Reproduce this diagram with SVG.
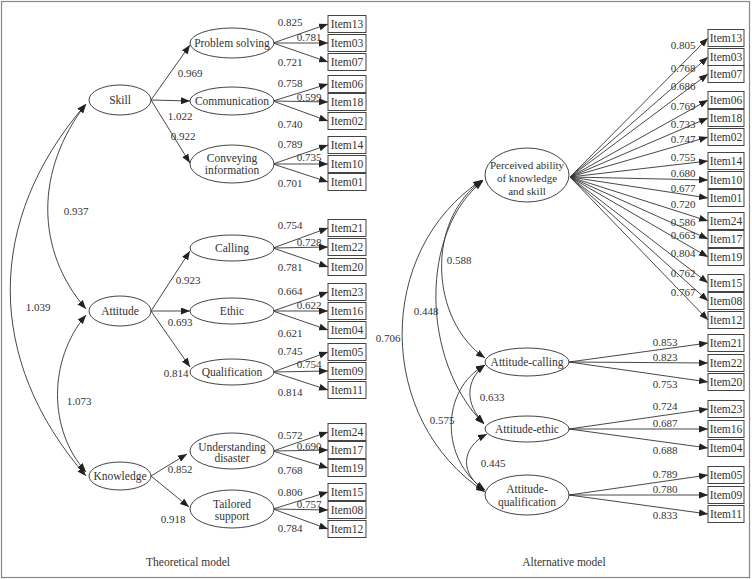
<svg xmlns="http://www.w3.org/2000/svg" width="752" height="579" viewBox="0 0 752 579">
<style>
text{font-family:"Liberation Serif","Times New Roman",serif;fill:#333;font-size:11.5px;text-anchor:middle}
.n{font-size:11px}
.s{font-size:11px}
.e{fill:#fff;stroke:#444;stroke-width:1}
.b{fill:#fff;stroke:#444;stroke-width:1}
.c{fill:none;stroke:#333;stroke-width:0.9;marker-end:url(#a)}
.d{fill:none;stroke:#333;stroke-width:0.9;marker-start:url(#a);marker-end:url(#a)}
</style>
<defs>
<marker id="a" viewBox="0 0 10 10" refX="10" refY="5" markerWidth="9" markerHeight="7" preserveAspectRatio="none" orient="auto-start-reverse" markerUnits="userSpaceOnUse"><path d="M0,0 L10,5 L0,10 z" fill="#222"/></marker>
</defs>
<rect x="1.5" y="1.5" width="748" height="576" fill="#fff" stroke="#888" stroke-width="1.2"/>

<g id="connectors">
<path class="c" d="M151,100 L190,45"/>
<path class="c" d="M151,100 L190,101"/>
<path class="c" d="M151,100 L190,163"/>
<path class="c" d="M151,311 L190,251"/>
<path class="c" d="M151,311 L190,311"/>
<path class="c" d="M151,311 L190,367"/>
<path class="c" d="M151,476 L187,454"/>
<path class="c" d="M151,476 L189,507"/>
<path class="c" d="M273,43 L328,24"/><path class="c" d="M273,43 L328,43"/><path class="c" d="M273,43 L328,62"/>
<path class="c" d="M273,101 L328,84"/><path class="c" d="M273,101 L328,102"/><path class="c" d="M273,101 L328,121"/>
<path class="c" d="M273,164 L328,145"/><path class="c" d="M273,164 L328,164"/><path class="c" d="M273,164 L328,182"/>
<path class="c" d="M273,248 L328,228"/><path class="c" d="M273,248 L328,247"/><path class="c" d="M273,248 L328,267"/>
<path class="c" d="M273,311 L328,292"/><path class="c" d="M273,311 L328,311"/><path class="c" d="M273,311 L328,330"/>
<path class="c" d="M273,372 L328,352"/><path class="c" d="M273,372 L328,371"/><path class="c" d="M273,372 L328,390"/>
<path class="c" d="M273,451 L328,432"/><path class="c" d="M273,451 L328,450"/><path class="c" d="M273,451 L328,468"/>
<path class="c" d="M273,509 L328,492"/><path class="c" d="M273,509 L328,510"/><path class="c" d="M273,509 L328,529"/>
<path class="d" d="M86,104 C35,170 35,250 86,309"/>
<path class="d" d="M86,104 C-15,220 -15,360 86,476"/>
<path class="d" d="M86,315 C48,360 48,430 86,472"/>
<path class="c" d="M570,177 L708,38"/><path class="c" d="M570,177 L708,57"/><path class="c" d="M570,177 L708,74"/>
<path class="c" d="M570,177 L708,100"/><path class="c" d="M570,177 L708,118"/><path class="c" d="M570,177 L708,137"/>
<path class="c" d="M570,177 L708,161"/><path class="c" d="M570,177 L708,180"/><path class="c" d="M570,177 L708,198"/>
<path class="c" d="M570,177 L708,221"/><path class="c" d="M570,177 L708,239"/><path class="c" d="M570,177 L708,257"/>
<path class="c" d="M570,177 L708,283"/><path class="c" d="M570,177 L708,301"/><path class="c" d="M570,177 L708,320"/>
<path class="c" d="M569,362 L708,343"/><path class="c" d="M569,362 L708,363"/><path class="c" d="M569,362 L708,382"/>
<path class="c" d="M569,429 L708,409"/><path class="c" d="M569,429 L708,429"/><path class="c" d="M569,429 L708,448"/>
<path class="c" d="M569,495 L708,475"/><path class="c" d="M569,495 L708,495"/><path class="c" d="M569,495 L708,514"/>
<path class="d" d="M483,180 C425,220 430,320 485,358"/>
<path class="d" d="M483,181 C420,230 420,360 484,424"/>
<path class="d" d="M482,180 C375,250 375,420 485,492"/>
<path class="d" d="M485,365 C465,380 465,405 484,423"/>
<path class="d" d="M485,365 C440,390 440,460 485,490"/>
<path class="d" d="M487,434 C460,448 460,475 485,490"/>
</g>

<g id="skill"><ellipse class="e" cx="120" cy="100" rx="31" ry="15"/><text x="120" y="104">Skill</text></g>
<g id="attitude"><ellipse class="e" cx="120" cy="311" rx="31" ry="15"/><text x="120" y="315">Attitude</text></g>
<g id="knowledge"><ellipse class="e" cx="120" cy="476" rx="31" ry="14"/><text x="120" y="480">Knowledge</text></g>
<g id="problem-solving"><ellipse class="e" cx="232" cy="43" rx="42" ry="15"/><text x="232" y="47">Problem solving</text></g>
<g id="communication"><ellipse class="e" cx="232" cy="101" rx="42" ry="14"/><text x="232" y="105">Communication</text></g>
<g id="conveying"><ellipse class="e" cx="232" cy="164" rx="42" ry="19"/><text x="232" y="162">Conveying</text><text x="232" y="174">information</text></g>
<g id="calling"><ellipse class="e" cx="232" cy="248" rx="42" ry="13"/><text x="232" y="252">Calling</text></g>
<g id="ethic"><ellipse class="e" cx="232" cy="311" rx="42" ry="13"/><text x="232" y="315">Ethic</text></g>
<g id="qualification"><ellipse class="e" cx="232" cy="372" rx="42" ry="13"/><text x="232" y="376">Qualification</text></g>
<g id="understanding"><ellipse class="e" cx="232" cy="451" rx="42" ry="18"/><text x="232" y="451">Understanding</text><text x="232" y="462">disaster</text></g>
<g id="tailored"><ellipse class="e" cx="232" cy="509" rx="42" ry="19"/><text x="232" y="508">Tailored</text><text x="232" y="520">support</text></g>

<g id="L-item13"><rect class="b" x="328" y="15.5" width="38" height="17"/><text x="347" y="28">Item13</text></g>
<g id="L-item03"><rect class="b" x="328" y="34.5" width="38" height="17"/><text x="347" y="47">Item03</text></g>
<g id="L-item07"><rect class="b" x="328" y="53.5" width="38" height="17"/><text x="347" y="66">Item07</text></g>
<g id="L-item06"><rect class="b" x="328" y="75.5" width="38" height="17"/><text x="347" y="88">Item06</text></g>
<g id="L-item18"><rect class="b" x="328" y="93.5" width="38" height="17"/><text x="347" y="106">Item18</text></g>
<g id="L-item02"><rect class="b" x="328" y="112.5" width="38" height="17"/><text x="347" y="125">Item02</text></g>
<g id="L-item14"><rect class="b" x="328" y="136.5" width="38" height="17"/><text x="347" y="149">Item14</text></g>
<g id="L-item10"><rect class="b" x="328" y="155.5" width="38" height="17"/><text x="347" y="168">Item10</text></g>
<g id="L-item01"><rect class="b" x="328" y="173.5" width="38" height="17"/><text x="347" y="186">Item01</text></g>
<g id="L-item21"><rect class="b" x="328" y="219.5" width="38" height="17"/><text x="347" y="232">Item21</text></g>
<g id="L-item22"><rect class="b" x="328" y="238.5" width="38" height="17"/><text x="347" y="251">Item22</text></g>
<g id="L-item20"><rect class="b" x="328" y="258.5" width="38" height="17"/><text x="347" y="271">Item20</text></g>
<g id="L-item23"><rect class="b" x="328" y="283.5" width="38" height="17"/><text x="347" y="296">Item23</text></g>
<g id="L-item16"><rect class="b" x="328" y="302.5" width="38" height="17"/><text x="347" y="315">Item16</text></g>
<g id="L-item04"><rect class="b" x="328" y="321.5" width="38" height="17"/><text x="347" y="334">Item04</text></g>
<g id="L-item05"><rect class="b" x="328" y="343.5" width="38" height="17"/><text x="347" y="356">Item05</text></g>
<g id="L-item09"><rect class="b" x="328" y="362.5" width="38" height="17"/><text x="347" y="375">Item09</text></g>
<g id="L-item11"><rect class="b" x="328" y="381.5" width="38" height="17"/><text x="347" y="394">Item11</text></g>
<g id="L-item24"><rect class="b" x="328" y="423.5" width="38" height="17"/><text x="347" y="436">Item24</text></g>
<g id="L-item17"><rect class="b" x="328" y="441.5" width="38" height="17"/><text x="347" y="454">Item17</text></g>
<g id="L-item19"><rect class="b" x="328" y="459.5" width="38" height="17"/><text x="347" y="472">Item19</text></g>
<g id="L-item15"><rect class="b" x="328" y="483.5" width="38" height="17"/><text x="347" y="496">Item15</text></g>
<g id="L-item08"><rect class="b" x="328" y="501.5" width="38" height="17"/><text x="347" y="514">Item08</text></g>
<g id="L-item12"><rect class="b" x="328" y="520.5" width="38" height="17"/><text x="347" y="533">Item12</text></g>

<g id="perceived"><ellipse class="e" cx="527" cy="175" rx="42" ry="27"/><text class="s" x="527" y="169">Perceived ability</text><text class="s" x="527" y="182">of knowledge</text><text class="s" x="527" y="195">and skill</text></g>
<g id="attitude-calling"><ellipse class="e" cx="527" cy="362" rx="42" ry="14"/><text x="527" y="366">Attitude-calling</text></g>
<g id="attitude-ethic"><ellipse class="e" cx="527" cy="429" rx="42" ry="13"/><text x="527" y="433">Attitude-ethic</text></g>
<g id="attitude-qualification"><ellipse class="e" cx="527" cy="495" rx="42" ry="20"/><text x="527" y="493">Attitude-</text><text x="527" y="506">qualification</text></g>

<g id="R-item13"><rect class="b" x="708" y="29.5" width="36" height="17"/><text x="726" y="42">Item13</text></g>
<g id="R-item03"><rect class="b" x="708" y="48.5" width="36" height="17"/><text x="726" y="61">Item03</text></g>
<g id="R-item07"><rect class="b" x="708" y="65.5" width="36" height="17"/><text x="726" y="78">Item07</text></g>
<g id="R-item06"><rect class="b" x="708" y="91.5" width="36" height="17"/><text x="726" y="104">Item06</text></g>
<g id="R-item18"><rect class="b" x="708" y="109.5" width="36" height="17"/><text x="726" y="122">Item18</text></g>
<g id="R-item02"><rect class="b" x="708" y="128.5" width="36" height="17"/><text x="726" y="141">Item02</text></g>
<g id="R-item14"><rect class="b" x="708" y="152.5" width="36" height="17"/><text x="726" y="165">Item14</text></g>
<g id="R-item10"><rect class="b" x="708" y="171.5" width="36" height="17"/><text x="726" y="184">Item10</text></g>
<g id="R-item01"><rect class="b" x="708" y="189.5" width="36" height="17"/><text x="726" y="202">Item01</text></g>
<g id="R-item24"><rect class="b" x="708" y="212.5" width="36" height="17"/><text x="726" y="225">Item24</text></g>
<g id="R-item17"><rect class="b" x="708" y="230.5" width="36" height="17"/><text x="726" y="243">Item17</text></g>
<g id="R-item19"><rect class="b" x="708" y="248.5" width="36" height="17"/><text x="726" y="261">Item19</text></g>
<g id="R-item15"><rect class="b" x="708" y="274.5" width="36" height="17"/><text x="726" y="287">Item15</text></g>
<g id="R-item08"><rect class="b" x="708" y="292.5" width="36" height="17"/><text x="726" y="305">Item08</text></g>
<g id="R-item12"><rect class="b" x="708" y="311.5" width="36" height="17"/><text x="726" y="324">Item12</text></g>
<g id="R-item21"><rect class="b" x="708" y="334.5" width="36" height="17"/><text x="726" y="347">Item21</text></g>
<g id="R-item22"><rect class="b" x="708" y="354.5" width="36" height="17"/><text x="726" y="367">Item22</text></g>
<g id="R-item20"><rect class="b" x="708" y="373.5" width="36" height="17"/><text x="726" y="386">Item20</text></g>
<g id="R-item23"><rect class="b" x="708" y="400.5" width="36" height="17"/><text x="726" y="413">Item23</text></g>
<g id="R-item16"><rect class="b" x="708" y="420.5" width="36" height="17"/><text x="726" y="433">Item16</text></g>
<g id="R-item04"><rect class="b" x="708" y="439.5" width="36" height="17"/><text x="726" y="452">Item04</text></g>
<g id="R-item05"><rect class="b" x="708" y="466.5" width="36" height="17"/><text x="726" y="479">Item05</text></g>
<g id="R-item09"><rect class="b" x="708" y="486.5" width="36" height="17"/><text x="726" y="499">Item09</text></g>
<g id="R-item11"><rect class="b" x="708" y="505.5" width="36" height="17"/><text x="726" y="518">Item11</text></g>

<g id="labels">
<text class="n" x="290" y="26">0.825</text><text class="n" x="309" y="41">0.781</text><text class="n" x="290" y="66">0.721</text>
<text class="n" x="190" y="77">0.969</text><text class="n" x="180" y="120">1.022</text><text class="n" x="183" y="140">0.922</text>
<text class="n" x="290" y="87">0.758</text><text class="n" x="309" y="101">0.599</text><text class="n" x="290" y="128">0.740</text>
<text class="n" x="290" y="148">0.789</text><text class="n" x="309" y="161">0.735</text><text class="n" x="290" y="187">0.701</text>
<text class="n" x="76" y="215">0.937</text>
<text class="n" x="290" y="229">0.754</text><text class="n" x="309" y="246">0.728</text><text class="n" x="290" y="271">0.781</text>
<text class="n" x="188" y="284">0.923</text>
<text class="n" x="38" y="311">1.039</text>
<text class="n" x="180" y="326">0.693</text>
<text class="n" x="290" y="295">0.664</text><text class="n" x="309" y="309">0.622</text><text class="n" x="290" y="337">0.621</text>
<text class="n" x="290" y="355">0.745</text><text class="n" x="309" y="368">0.754</text><text class="n" x="290" y="396">0.814</text>
<text class="n" x="176" y="377">0.814</text>
<text class="n" x="79" y="405">1.073</text>
<text class="n" x="290" y="439">0.572</text><text class="n" x="309" y="450">0.690</text><text class="n" x="290" y="474">0.768</text>
<text class="n" x="180" y="473">0.852</text>
<text class="n" x="290" y="496">0.806</text><text class="n" x="309" y="508">0.757</text><text class="n" x="290" y="532">0.784</text>
<text class="n" x="173" y="523">0.918</text>
<text class="n" x="683" y="49">0.805</text><text class="n" x="683" y="72">0.768</text><text class="n" x="683" y="90">0.686</text>
<text class="n" x="683" y="110">0.769</text><text class="n" x="683" y="128">0.733</text><text class="n" x="683" y="143">0.747</text>
<text class="n" x="683" y="161">0.755</text><text class="n" x="683" y="177">0.680</text><text class="n" x="683" y="192">0.677</text>
<text class="n" x="683" y="208">0.720</text><text class="n" x="683" y="226">0.586</text><text class="n" x="683" y="239">0.663</text>
<text class="n" x="683" y="257">0.804</text><text class="n" x="683" y="277">0.762</text><text class="n" x="683" y="296">0.767</text>
<text class="n" x="459" y="264">0.588</text><text class="n" x="426" y="315">0.448</text><text class="n" x="388" y="342">0.706</text>
<text class="n" x="492" y="401">0.633</text><text class="n" x="442" y="424">0.575</text><text class="n" x="493" y="467">0.445</text>
<text class="n" x="665" y="346">0.853</text><text class="n" x="665" y="361">0.823</text><text class="n" x="665" y="388">0.753</text>
<text class="n" x="665" y="410">0.724</text><text class="n" x="665" y="427">0.687</text><text class="n" x="665" y="454">0.688</text>
<text class="n" x="665" y="478">0.789</text><text class="n" x="665" y="493">0.780</text><text class="n" x="665" y="519">0.833</text>
</g>
<g id="captions">
<text x="188" y="566">Theoretical model</text>
<text x="564" y="566">Alternative model</text>
</g>
</svg>
